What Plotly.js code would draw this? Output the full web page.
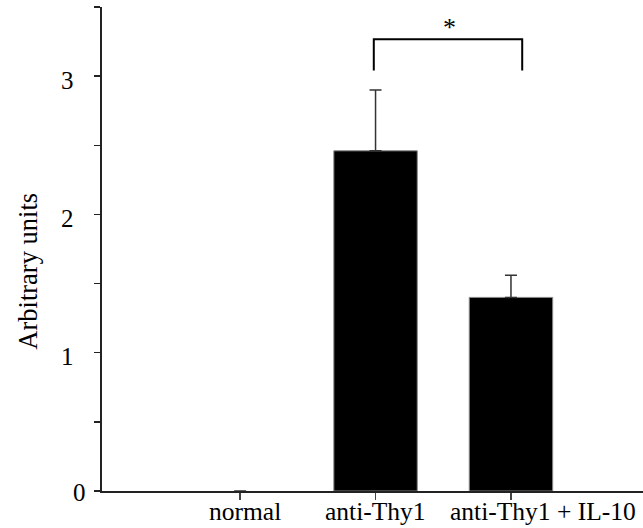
<!DOCTYPE html>
<html>
<head>
<meta charset="utf-8">
<script src="https://cdn.plot.ly/plotly-3.0.1.min.js"></script>
<style>
html, body { margin: 0; padding: 0; background: #fff; }
#chart { width: 643px; height: 528px; }
</style>
</head>
<body>
<div id="chart"></div>
<script>
// ---- data ----
const categories = ['normal', 'anti-Thy1', 'anti-Thy1 + IL-10'];
const values = [0, 2.46, 1.40];
const errorsUp = [0, 0.44, 0.16];
const yTickValues = [0, 0.5, 1, 1.5, 2, 2.5, 3, 3.5];
const yTickLabels = ['0', '', '1', '', '2', '', '3', ''];
const yTitle = 'Arbitrary units';
const significance = '*';

const FONT = 'Liberation Serif';

const trace = {
  type: 'bar',
  x: categories,
  y: values,
  marker: { color: '#000000', line: { color: '#888888', width: values.map(v => v > 0 ? 1 : 0) } },
  error_y: {
    type: 'data', symmetric: false, array: errorsUp,
    arrayminus: errorsUp.map(() => 0),
    color: '#333333', thickness: 1.5, width: 6
  },
  hoverinfo: 'none'
};

const annotations = [];
// y tick labels
yTickValues.forEach((v, i) => {
  if (!yTickLabels[i]) return;
  const isZero = v === 0;
  annotations.push({
    text: yTickLabels[i], xref: 'paper', yref: 'y', x: 0, y: v,
    xanchor: 'right', yanchor: 'middle',
    xshift: isZero ? -14 : -26, yshift: isZero ? -1 : -4,
    showarrow: false, font: { family: FONT, size: 25, color: '#000' }
  });
});
// x category labels
const xLabelPos = [0.033, 1.0, 2.236];
categories.forEach((c, i) => {
  annotations.push({
    text: c, xref: 'x', yref: 'paper', x: xLabelPos[i], y: 0,
    xanchor: 'center', yanchor: 'middle', yshift: -20,
    showarrow: false, font: { family: FONT, size: 25.5, color: '#000' }
  });
});
// y title
annotations.push({
  text: yTitle, xref: 'paper', yref: 'y', x: 0, y: 1.586,
  xanchor: 'center', yanchor: 'middle', xshift: -74, textangle: -90,
  showarrow: false, font: { family: FONT, size: 26.5, color: '#000' }
});
// significance star
annotations.push({
  text: significance, xref: 'x', yref: 'y', x: 1.548, y: 3.35,
  xanchor: 'center', yanchor: 'middle',
  showarrow: false, font: { family: FONT, size: 26, color: '#000' }
});

const layout = {
  width: 643, height: 528,
  margin: { l: 102, r: 0, t: 7, b: 37, pad: 0 },
  paper_bgcolor: '#ffffff', plot_bgcolor: '#ffffff',
  showlegend: false,
  bargap: 0.384,
  font: { family: FONT, size: 26, color: '#000' },
  xaxis: {
    type: 'category', range: [-1.02, 2.975],
    showgrid: false, zeroline: false,
    showline: true, linecolor: '#222222', linewidth: 1.5,
    ticks: 'outside', ticklen: 7, tickwidth: 1.5, tickcolor: '#444444',
    showticklabels: false, fixedrange: true
  },
  yaxis: {
    range: [0, 3.5],
    showgrid: false, zeroline: false,
    showline: true, linecolor: '#222222', linewidth: 2,
    ticks: 'outside', ticklen: 6, tickwidth: 1.5, tickcolor: '#222222',
    tickmode: 'array', tickvals: yTickValues, ticktext: yTickValues.map(() => ''),
    showticklabels: true, fixedrange: true
  },
  shapes: [{
    type: 'path', xref: 'x', yref: 'y',
    path: 'M 0.987 3.04 L 0.987 3.267 L 2.083 3.267 L 2.083 3.04',
    line: { color: '#000000', width: 2 }
  }],
  annotations: annotations
};

Plotly.newPlot('chart', [trace], layout, { displayModeBar: false, staticPlot: true });
</script>
</body>
</html>
